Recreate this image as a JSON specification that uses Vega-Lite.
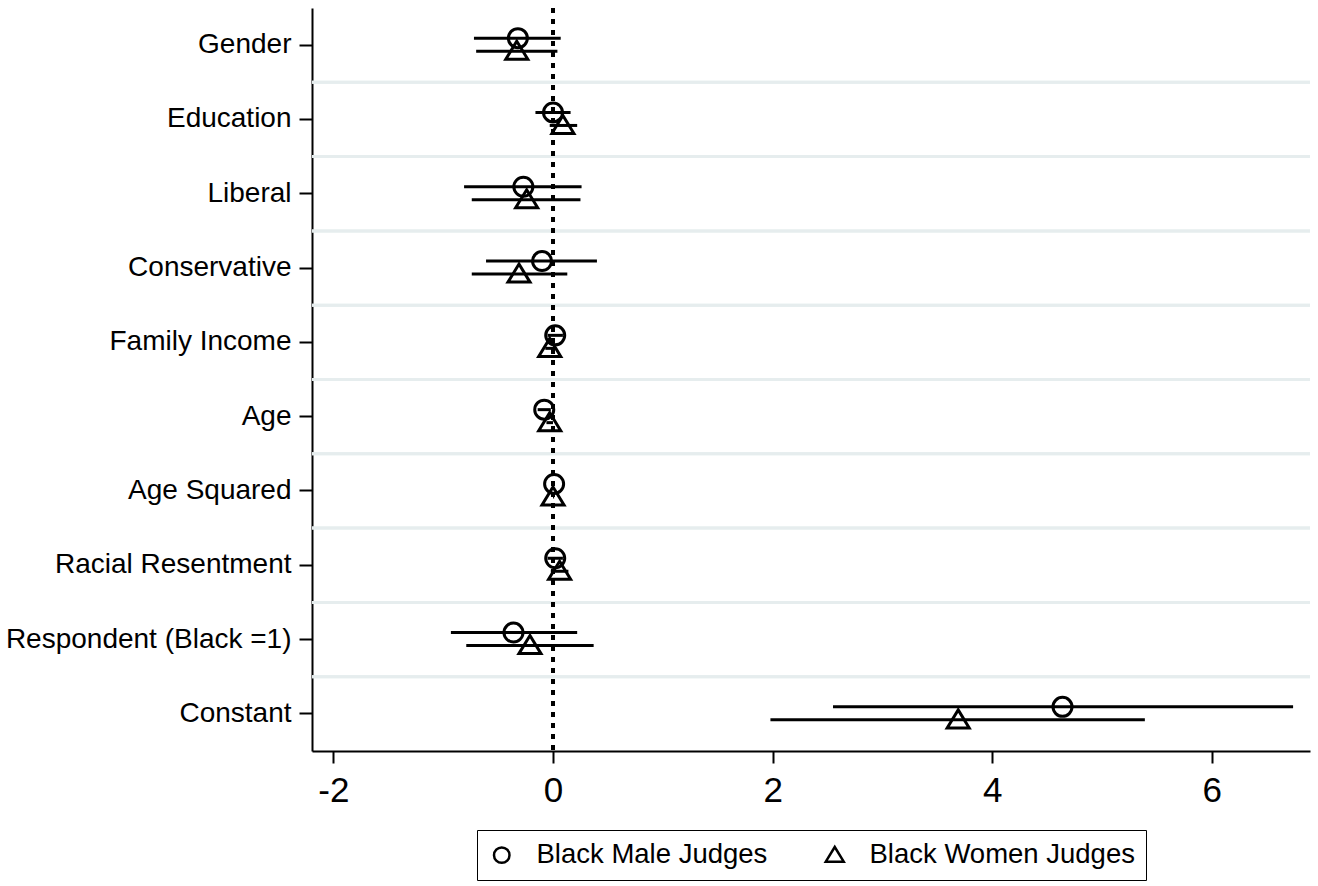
{
  "$schema": "https://vega.github.io/schema/vega-lite/v6.json",
  "autosize": "none",
  "width": 998,
  "height": 743,
  "padding": {"left": 312, "top": 8, "right": 8, "bottom": 135},
  "background": "white",
  "config": {
    "view": {"stroke": null},
    "font": "Liberation Sans",
    "axis": {"labelFont": "Liberation Sans", "labelColor": "black", "domainColor": "black", "tickColor": "black", "title": null}
  },
  "data": {
    "values": [
      {"var": "Gender", "series": "Black Male Judges", "est": -0.32, "lo": -0.72, "hi": 0.07},
      {"var": "Gender", "series": "Black Women Judges", "est": -0.33, "lo": -0.70, "hi": 0.04},
      {"var": "Education", "series": "Black Male Judges", "est": 0.0, "lo": -0.16, "hi": 0.16},
      {"var": "Education", "series": "Black Women Judges", "est": 0.09, "lo": -0.03, "hi": 0.22},
      {"var": "Liberal", "series": "Black Male Judges", "est": -0.27, "lo": -0.81, "hi": 0.26},
      {"var": "Liberal", "series": "Black Women Judges", "est": -0.24, "lo": -0.74, "hi": 0.25},
      {"var": "Conservative", "series": "Black Male Judges", "est": -0.10, "lo": -0.61, "hi": 0.40},
      {"var": "Conservative", "series": "Black Women Judges", "est": -0.31, "lo": -0.74, "hi": 0.13},
      {"var": "Family Income", "series": "Black Male Judges", "est": 0.02, "lo": -0.05, "hi": 0.09},
      {"var": "Family Income", "series": "Black Women Judges", "est": -0.03, "lo": -0.07, "hi": 0.02},
      {"var": "Age", "series": "Black Male Judges", "est": -0.08, "lo": -0.14, "hi": -0.02},
      {"var": "Age", "series": "Black Women Judges", "est": -0.03, "lo": -0.06, "hi": 0.0},
      {"var": "Age Squared", "series": "Black Male Judges", "est": 0.01, "lo": 0.0, "hi": 0.01},
      {"var": "Age Squared", "series": "Black Women Judges", "est": 0.0, "lo": 0.0, "hi": 0.01},
      {"var": "Racial Resentment", "series": "Black Male Judges", "est": 0.02, "lo": -0.05, "hi": 0.09},
      {"var": "Racial Resentment", "series": "Black Women Judges", "est": 0.06, "lo": -0.02, "hi": 0.14},
      {"var": "Respondent (Black =1)", "series": "Black Male Judges", "est": -0.36, "lo": -0.93, "hi": 0.22},
      {"var": "Respondent (Black =1)", "series": "Black Women Judges", "est": -0.21, "lo": -0.79, "hi": 0.37},
      {"var": "Constant", "series": "Black Male Judges", "est": 4.64, "lo": 2.55, "hi": 6.74},
      {"var": "Constant", "series": "Black Women Judges", "est": 3.69, "lo": 1.98, "hi": 5.39}
    ]
  },
  "encoding": {
    "y": {
      "field": "var", "type": "nominal", "sort": null,
      "scale": {
        "domain": ["Gender", "Education", "Liberal", "Conservative", "Family Income", "Age", "Age Squared", "Racial Resentment", "Respondent (Black =1)", "Constant"],
        "paddingInner": 0, "paddingOuter": 0
      },
      "axis": {
        "labelFontSize": 28, "labelPadding": 8, "labelLimit": 400, "tickSize": 13, "tickWidth": 2, "domainWidth": 2, "grid": false
      }
    }
  },
  "layer": [
    {
      "transform": [{"filter": "datum.var !== 'Gender'"}],
      "mark": {"type": "rule", "color": "#e6edee", "strokeWidth": 3},
      "encoding": {"y": {"field": "var", "type": "nominal", "sort": null, "bandPosition": 0}}
    },
    {
      "mark": {"type": "rule", "color": "black", "strokeWidth": 3, "strokeDash": [5, 6]},
      "encoding": {"x": {"datum": 0, "type": "quantitative"}, "y": null}
    },
    {
      "mark": {"type": "rule", "color": "black", "strokeWidth": 3, "yOffset": {"expr": "datum.series === 'Black Male Judges' ? -7 : 6"}},
      "encoding": {
        "x": {
          "field": "lo", "type": "quantitative",
          "scale": {"domain": [-2.195, 6.894], "nice": false, "zero": false},
          "axis": {"values": [-2, 0, 2, 4, 6], "labelExpr": "datum.value", "labelFontSize": 35, "labelPadding": 10, "tickSize": 12, "tickWidth": 2, "domainWidth": 2, "grid": false}
        },
        "x2": {"field": "hi"}
      }
    },
    {
      "mark": {"type": "point", "filled": false, "stroke": "black", "strokeWidth": 3, "opacity": 1, "size": 361, "yOffset": {"expr": "datum.series === 'Black Male Judges' ? -7 : 6"}},
      "encoding": {
        "x": {"field": "est", "type": "quantitative"},
        "shape": {
          "field": "series", "type": "nominal",
          "scale": {"domain": ["Black Male Judges", "Black Women Judges"], "range": ["circle", "M0,-1.05L1.16,0.85L-1.16,0.85Z"]},
          "legend": {
            "title": null, "orient": "none", "legendX": 165, "legendY": 822, "direction": "horizontal",
            "strokeColor": "black", "fillColor": "white", "padding": 11,
            "labelFontSize": 27.5, "labelFont": "Liberation Sans", "labelColor": "black", "labelOffset": 21,
            "columnPadding": 52, "symbolSize": 240, "symbolStrokeWidth": 2.5, "symbolStrokeColor": "black", "symbolFillColor": "transparent", "labelLimit": 400,
            "encode": {"legend": {"update": {"strokeWidth": {"value": 2}}}}
          }
        }
      }
    }
  ]
}
